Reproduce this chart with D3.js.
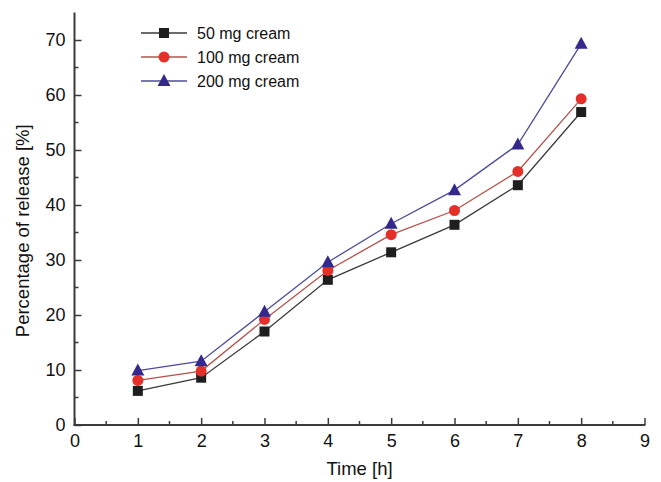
<!DOCTYPE html>
<html><head><meta charset="utf-8">
<script src="https://cdn.jsdelivr.net/npm/d3@7"></script>
<style>body{margin:0;background:#fff}svg{display:block}</style>
</head><body>
<svg id="c" width="661" height="482"></svg>
<script>
const times = [1, 2, 3, 4, 5, 6, 7, 8];
const cream50 = [6.2, 8.6, 17.0, 26.4, 31.4, 36.4, 43.6, 56.9];
const cream100 = [8.1, 9.8, 19.2, 28.1, 34.6, 39.0, 46.1, 59.3];
const cream200 = [9.9, 11.6, 20.6, 29.6, 36.6, 42.7, 51.0, 69.3];
const seriesNames = ["50 mg cream", "100 mg cream", "200 mg cream"];
const xTicks = [0, 1, 2, 3, 4, 5, 6, 7, 8, 9];
const yTicks = [0, 10, 20, 30, 40, 50, 60, 70];
const xTitle = "Time [h]";
const yTitle = "Percentage of release [%]";

const series = [
  {name: seriesNames[0], values: cream50, line: "#3a3a3a", fill: "#1e1e1e", shape: "square"},
  {name: seriesNames[1], values: cream100, line: "#b5524a", fill: "#e5302a", shape: "circle"},
  {name: seriesNames[2], values: cream200, line: "#4b4b9a", fill: "#34288c", shape: "triangle"}
];

const svg = d3.select("#c");
const x = d3.scaleLinear().domain([0, 9]).range([74.5, 644.5]);
const y = d3.scaleLinear().domain([0, 75]).range([425, 12.5]);
const font = "Arial, 'Liberation Sans', sans-serif";
const axisColor = "#3a3a3a";

// y axis
const yAxis = d3.axisLeft(y).tickValues(yTicks).tickSize(-7).tickPadding(8).tickFormat(d3.format("d"));
const gy = svg.append("g").attr("transform", `translate(${x(0)},0)`).call(yAxis);
gy.select(".domain").remove();
gy.selectAll(".tick line").attr("stroke", axisColor).attr("stroke-width", 1.5);
gy.selectAll(".tick text").attr("font-family", font).attr("font-size", 18).attr("fill", "#111").attr("x", -9);
const yMinor = d3.range(5, 75, 10);
gy.selectAll(".minor").data(yMinor).enter().append("line")
  .attr("x1", 0).attr("x2", 4).attr("y1", d => y(d)).attr("y2", d => y(d))
  .attr("stroke", axisColor).attr("stroke-width", 1.5);
gy.append("line").attr("x1", 0).attr("x2", 0).attr("y1", y(0) + 0.75).attr("y2", y(75))
  .attr("stroke", axisColor).attr("stroke-width", 2);

// x axis
const xAxis = d3.axisBottom(x).tickValues(xTicks).tickSize(-7).tickPadding(10).tickFormat(d3.format("d"));
const gx = svg.append("g").attr("transform", `translate(0,${y(0)})`).call(xAxis);
gx.select(".domain").remove();
gx.selectAll(".tick line").attr("stroke", axisColor).attr("stroke-width", 1.5);
gx.selectAll(".tick text").attr("font-family", font).attr("font-size", 18).attr("fill", "#111").attr("y", 9);
const xMinor = d3.range(0.5, 9, 1);
gx.selectAll(".minor").data(xMinor).enter().append("line")
  .attr("x1", d => x(d)).attr("x2", d => x(d)).attr("y1", 0).attr("y2", -4)
  .attr("stroke", axisColor).attr("stroke-width", 1.5);
gx.append("line").attr("x1", x(0) - 1).attr("x2", x(9) + 0.75).attr("y1", 0).attr("y2", 0)
  .attr("stroke", axisColor).attr("stroke-width", 2);

// titles
svg.append("text").attr("x", (x(0) + x(9)) / 2).attr("y", 475).attr("text-anchor", "middle")
  .attr("font-family", font).attr("font-size", 18.5).attr("fill", "#111").text(xTitle);
svg.append("text").attr("transform", `translate(29,${(y(0) + y(75)) / 2 + 12}) rotate(-90)`)
  .attr("text-anchor", "middle").attr("font-family", font).attr("font-size", 18.5).attr("fill", "#111").text(yTitle);

function marker(g, shape, fill) {
  if (shape === "square") {
    g.append("rect").attr("x", -5).attr("y", -5).attr("width", 10).attr("height", 10).attr("fill", fill);
  } else if (shape === "circle") {
    g.append("circle").attr("r", 5.5).attr("fill", fill);
  } else {
    g.append("path").attr("d", "M0,-7 L6.5,5 L-6.5,5 Z").attr("fill", fill);
  }
}

const line = d3.line().x((d, i) => x(times[i])).y(d => y(d));
series.forEach(s => {
  svg.append("path").attr("d", line(s.values)).attr("fill", "none")
    .attr("stroke", s.line).attr("stroke-width", 1.3);
});
series.forEach(s => {
  s.values.forEach((v, i) => {
    const g = svg.append("g").attr("transform", `translate(${x(times[i])},${y(v)})`);
    marker(g, s.shape, s.fill);
  });
});

// legend
series.forEach((s, i) => {
  const ly = 33 + i * 24;
  svg.append("line").attr("x1", 141).attr("x2", 187).attr("y1", ly).attr("y2", ly)
    .attr("stroke", s.line).attr("stroke-width", 1.3);
  const g = svg.append("g").attr("transform", `translate(164,${ly})`);
  marker(g, s.shape, s.fill);
  svg.append("text").attr("x", 197).attr("y", ly + 5.5).attr("font-family", font)
    .attr("font-size", 16).attr("fill", "#111").text(s.name);
});
</script>
</body></html>
